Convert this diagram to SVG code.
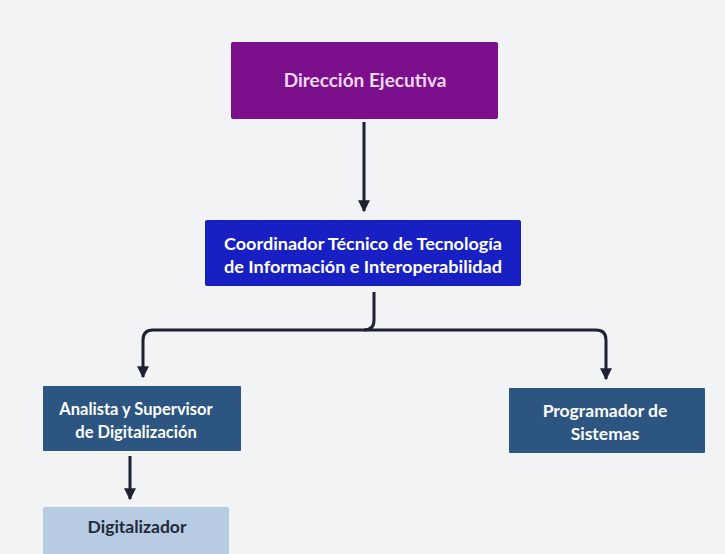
<svg xmlns="http://www.w3.org/2000/svg" width="725" height="554" viewBox="0 0 725 554">
<defs>
<style>
.t{font-family:"Lato","Liberation Sans",sans-serif;font-weight:bold;font-size:17px;text-anchor:middle}
.w{fill:#ffffff}
.c{fill:none;stroke:#1c2233;stroke-width:3}
</style>
<marker id="ah" viewBox="0 0 10 10" refX="9" refY="5" markerWidth="4" markerHeight="4" orient="auto" markerUnits="strokeWidth">
<path d="M0,0 L10,5 L0,10 Z" fill="#1c2233"/>
</marker>
</defs>
<rect width="725" height="554" fill="#f2f3f5"/>
<g id="connectors">
<path class="c" d="M364,122 V211" marker-end="url(#ah)"/>
<path class="c" d="M374,292 V320 Q374,330 364,330 H153 Q143,330 143,340 V377" marker-end="url(#ah)"/>
<path class="c" d="M364,330 H596 Q606,330 606,340 V379" marker-end="url(#ah)"/>
<path class="c" d="M130,456 V499" marker-end="url(#ah)"/>
</g>
<g id="direccion">
<rect x="231" y="42" width="267" height="77" rx="2" fill="#7b0f8c"/>
<text class="t" x="365" y="87" style="fill:#f4d8f2;font-size:19px">Dirección Ejecutiva</text>
</g>
<g id="coordinador">
<rect x="205" y="220" width="316" height="66" rx="2" fill="#1820c4"/>
<text class="t w" x="363" y="250" textLength="278" lengthAdjust="spacingAndGlyphs">Coordinador  Técnico de Tecnología</text>
<text class="t w" x="363" y="273" textLength="278" lengthAdjust="spacingAndGlyphs">de Información e Interoperabilidad</text>
</g>
<g id="analista">
<rect x="43" y="386" width="198" height="65" rx="1" fill="#2c5582"/>
<text class="t w" x="136" y="415" style="font-size:16.5px">Analista y Supervisor</text>
<text class="t w" x="136" y="438" style="font-size:16.5px">de Digitalización</text>
</g>
<g id="programador">
<rect x="509" y="388" width="196" height="65" rx="1" fill="#2c5582"/>
<text class="t w" x="605" y="417" style="font-size:17.5px">Programador de</text>
<text class="t w" x="605" y="440" style="font-size:17.5px">Sistemas</text>
</g>
<g id="digitalizador">
<rect x="43" y="507" width="186" height="50" rx="1" fill="#b7cbe3"/>
<text class="t" x="137" y="533" style="fill:#1f2a3a;font-size:17.5px">Digitalizador</text>
</g>
</svg>
